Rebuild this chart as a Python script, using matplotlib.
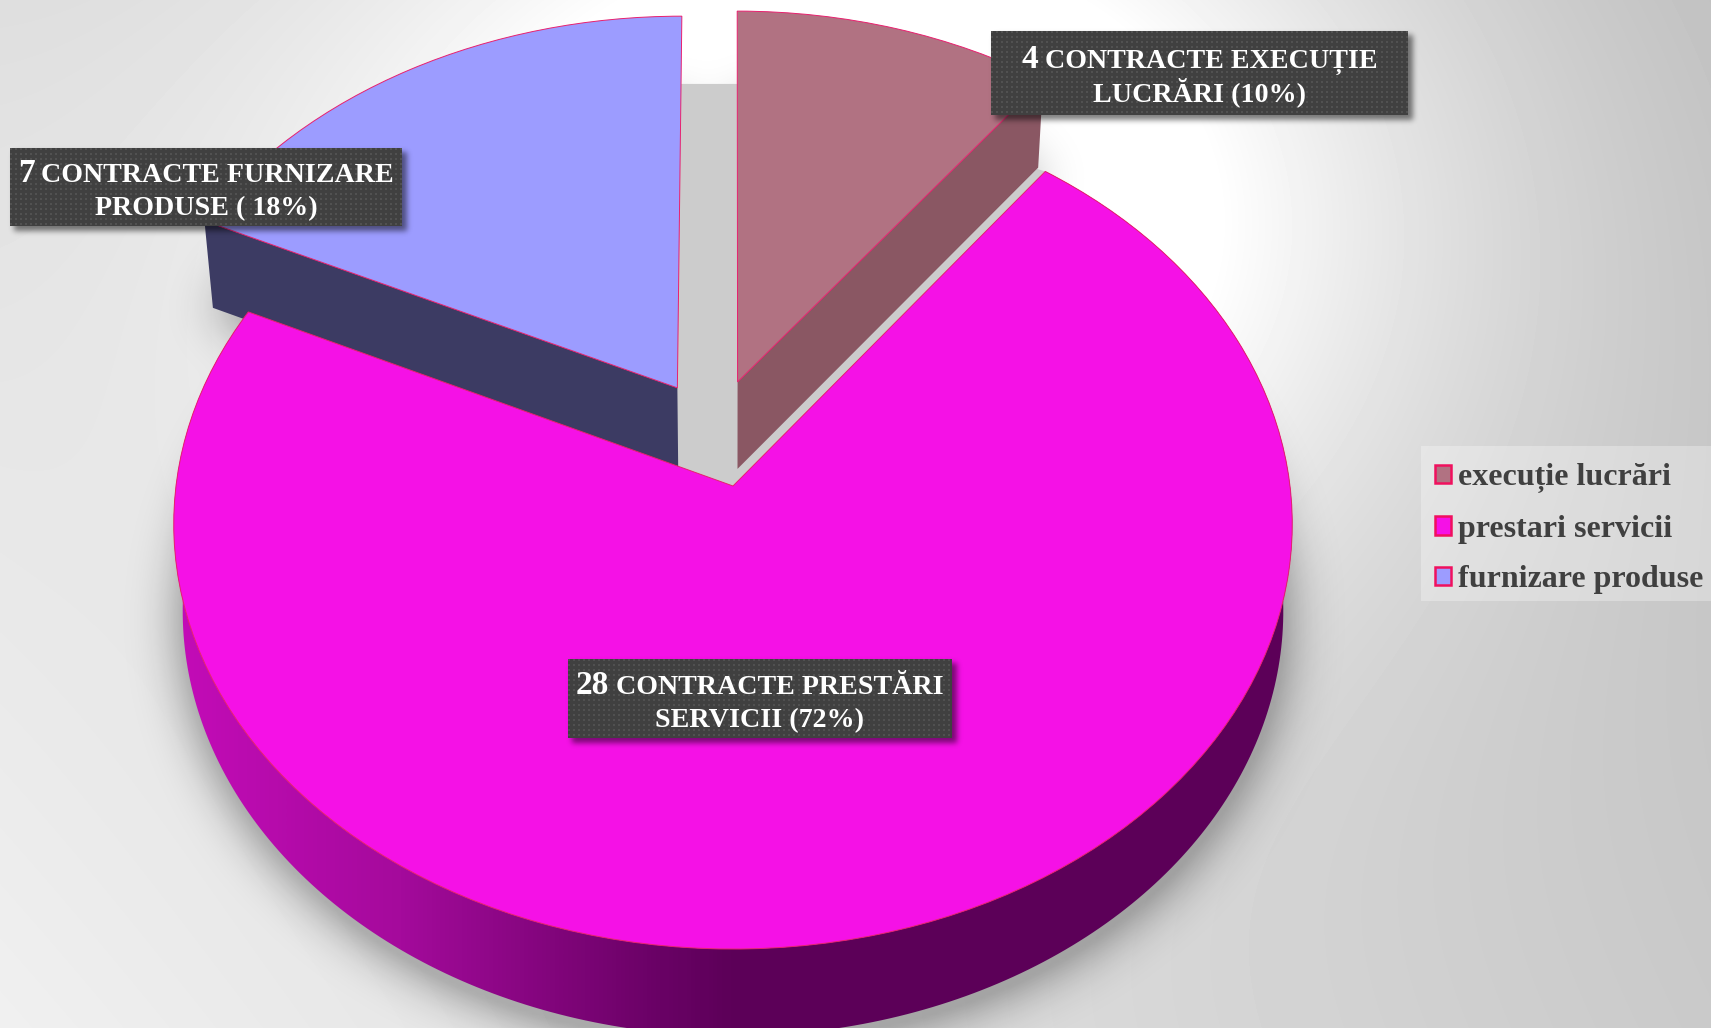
import numpy as np
import matplotlib
matplotlib.use("Agg")
import matplotlib.pyplot as plt
from matplotlib.patches import Patch, Polygon, Rectangle
from matplotlib.path import Path
from matplotlib.transforms import Transform
from matplotlib.colors import LinearSegmentedColormap

# ---------- data ----------
categories = ["execuție lucrări", "prestari servicii", "furnizare produse"]
counts = [4, 28, 7]
label_numbers = ["4", "28", "7"]
label_line1 = ["CONTRACTE EXECUȚIE", "CONTRACTE PRESTĂRI", "CONTRACTE FURNIZARE"]
label_line2 = ["LUCRĂRI (10%)", "SERVICII (72%)", "PRODUSE ( 18%)"]
face_colors = ["#B17282", "#F511E6", "#9C9CFF"]
wall_colors = ["#8A5763", "#5C0058", "#3C3B63"]
explode_offsets = [(0.0084, 0.2525), (0.0, 0.0), (-0.102, 0.2377)]
label_boxes = [(991, 31, 1408, 115), (568, 659, 952, 738), (10, 148, 402, 226)]

W, H = 1711, 1028
CX, CY, RX, RY, K = 733.0, 486.0, 557.0, 421.6, 0.0894
DEPTH, LOW = 87.0, 0.984
SERIF = "Liberation Serif"


def project(p, lower=False):
    p = np.asarray(p, float)
    w = 1 + K * p[..., 1]
    s = LOW if lower else 1.0
    return np.stack([CX + s * RX * p[..., 0] / w,
                     CY - RY * p[..., 1] / w + (DEPTH if lower else 0.0)], axis=-1)


class PlaneTransform(Transform):
    input_dims = output_dims = 2
    is_affine = False

    def transform_non_affine(self, values):
        return project(values)


fig = plt.figure(figsize=(W / 100, H / 100), dpi=100)
ax = fig.add_axes([0, 0, 1, 1])

wedges, _ = ax.pie(counts, startangle=90, counterclock=False, colors=face_colors,
                   wedgeprops=dict(linewidth=0.7, edgecolor="#E8206E"))
ax.set_aspect("auto")
ax.set_xlim(0, W)
ax.set_ylim(H, 0)
ax.axis("off")

plane = PlaneTransform() + ax.transData
for w, off in zip(wedges, explode_offsets):
    w.set_center(off)
    w.set_transform(plane)
    w.set_zorder(6)
wedges[1].set_zorder(8)


def edge_pt(w, theta, r=1.0):
    t = np.radians(theta)
    return np.array([w.center[0] + r * np.cos(t), w.center[1] + r * np.sin(t)])


def wedge_outline(w, lower=False):
    th = np.linspace(w.theta1, w.theta2, 160)
    arc = np.stack([w.center[0] + np.cos(np.radians(th)),
                    w.center[1] + np.sin(np.radians(th))], axis=-1)
    return project(np.vstack([[w.center], arc]), lower)


# ---------- background ----------
yy, xx = np.mgrid[0:H, 0:W]
u, v = xx / (W - 1), yy / (H - 1)
corners = (0.86 * (1 - u) * (1 - v) + 0.74 * u * (1 - v) + 0.94 * (1 - u) * v + 0.79 * u * v)
bump = 0.31 * np.exp(-(((xx - 900) / 520.0) ** 2 + ((yy - 200) / 400.0) ** 2))
bg = np.clip(corners + bump, 0, 1)
ax.imshow(bg, cmap="gray", vmin=0, vmax=1, extent=(0, W, H, 0), aspect="auto",
          zorder=0, interpolation="bilinear")


def gauss_blur(a, sigma):
    r = int(3 * sigma)
    k = np.exp(-0.5 * (np.arange(-r, r + 1) / sigma) ** 2)
    k /= k.sum()
    a = np.apply_along_axis(lambda m: np.convolve(m, k, mode="same"), 0, a)
    a = np.apply_along_axis(lambda m: np.convolve(m, k, mode="same"), 1, a)
    return a


# ---------- pie shadow ----------
step = 4
gy, gx = np.mgrid[0:H // step + 1, 0:W // step + 1]
pts = np.column_stack([gx.ravel() * step, gy.ravel() * step])
mask = np.zeros(gx.shape)
for w in wedges:
    poly = wedge_outline(w, lower=True) + np.array([0, 6])
    mask = np.maximum(mask, Path(poly).contains_points(pts).reshape(gx.shape).astype(float))
mask = gauss_blur(mask, 6.5)
rgba = np.zeros(mask.shape + (4,))
rgba[..., 3] = np.clip(mask * 2.0, 0, 1) * 0.25
ax.imshow(rgba, extent=(0, (W // step + 1) * step, (H // step + 1) * step, 0), aspect="auto",
          zorder=1, interpolation="bilinear")
ax.set_xlim(0, W)
ax.set_ylim(H, 0)

# ---------- gap floor between the pulled-out slices ----------
svc = wedges[1]
floor = project(np.array([[0, 0], edge_pt(svc, svc.theta2), [0.05, 1.0426], [-0.2, 1.0426], [-0.4, 0.0]]))
ax.add_patch(Polygon(floor, closed=True, facecolor="#CCCCCC", edgecolor="none", zorder=2))

# ---------- walls ----------
exe, fur = wedges[0], wedges[2]
for w, th, col in ((exe, exe.theta1, wall_colors[0]), (fur, fur.theta2, wall_colors[2])):
    top = project(np.array([w.center, edge_pt(w, th)]))
    low = project(np.array([w.center, edge_pt(w, th)]), lower=True)
    ax.add_patch(Polygon(np.vstack([top, low[::-1]]), closed=True, facecolor=col,
                         edgecolor="none", zorder=4))

th = np.linspace(svc.theta1, svc.theta2, 300)
arc = np.stack([np.cos(np.radians(th)), np.sin(np.radians(th))], axis=-1)
side = np.vstack([project(arc), project(arc, lower=True)[::-1]])
ramp = LinearSegmentedColormap.from_list("side", [(0, "#C40CB8"), (0.2, "#A50A9C"), (0.42, "#6C0268"),
                                                  (0.5, "#5C0058"), (1, wall_colors[1])])
grad = ax.imshow(np.linspace(0, 1, 256)[None, :], cmap=ramp, extent=(170, 1300, H, 0),
                 aspect="auto", zorder=7, interpolation="bilinear")
grad.set_clip_path(Polygon(side, closed=True, transform=ax.transData))
ax.set_xlim(0, W)
ax.set_ylim(H, 0)

renderer = fig.canvas.get_renderer()


def draw_label(box, number, line1, line2, z):
    x0, y0, x1, y1 = box
    pad = 24
    h, wd = int(y1 - y0 + 2 * pad), int(x1 - x0 + 2 * pad)
    m = np.zeros((h, wd))
    m[pad + 4:h - pad + 5, pad + 4:wd - pad + 5] = 1
    m = gauss_blur(m, 2.8)
    sh = np.zeros((h, wd, 4))
    sh[..., 3] = m * 0.5
    ax.imshow(sh, extent=(x0 - pad, x1 + pad, y1 + pad, y0 - pad), aspect="auto", zorder=z,
              interpolation="bilinear")
    bw, bh = int(x1 - x0), int(y1 - y0)
    tex = np.full((bh, bw), 0.25)
    by, bx = np.mgrid[0:bh, 0:bw]
    tex[((bx % 5) < 2) & ((by % 5) < 2)] = 0.32
    ax.imshow(tex, cmap="gray", vmin=0, vmax=1, extent=(x0, x1, y1, y0), aspect="auto", zorder=z + 0.1,
              interpolation="bilinear")
    cx = (x0 + x1) / 2
    b1 = (y0 + y1) / 2 - 5
    b2 = b1 + 33.5
    tn = ax.text(0, b1, number, family=SERIF, weight="bold", color="white", fontsize=24,
                 ha="left", va="baseline", zorder=z + 0.2)
    tr = ax.text(0, b1, " " + line1, family=SERIF, weight="bold", color="white", fontsize=20.2,
                 ha="left", va="baseline", zorder=z + 0.2)
    wn = tn.get_window_extent(renderer).width
    wr = tr.get_window_extent(renderer).width
    start = cx - (wn + wr) / 2
    tn.set_x(start)
    tr.set_x(start + wn)
    ax.text(cx, b2, line2, family=SERIF, weight="bold", color="white", fontsize=20.2,
            ha="center", va="baseline", zorder=z + 0.2)


for i in range(3):
    draw_label(label_boxes[i], label_numbers[i], label_line1[i], label_line2[i], 10 + i)
ax.set_xlim(0, W)
ax.set_ylim(H, 0)

# ---------- legend ----------
ax.add_patch(Rectangle((1421, 446), W - 1421, 155, facecolor="white", alpha=0.3, edgecolor="none", zorder=19))
handles = [Patch(facecolor=c, edgecolor="#F0105E", linewidth=1.8) for c in face_colors]
leg = ax.legend(handles, categories, loc="upper left", bbox_to_anchor=(1421, 449),
                bbox_transform=ax.transData, frameon=False, handlelength=0.5, handleheight=0.5,
                handletextpad=0.22, borderpad=0.45, borderaxespad=0, labelspacing=0.67,
                prop=dict(family=SERIF, weight="bold", size=23), labelcolor="#404040")
leg.set_zorder(20)

fig.savefig("out.png", dpi=100)
